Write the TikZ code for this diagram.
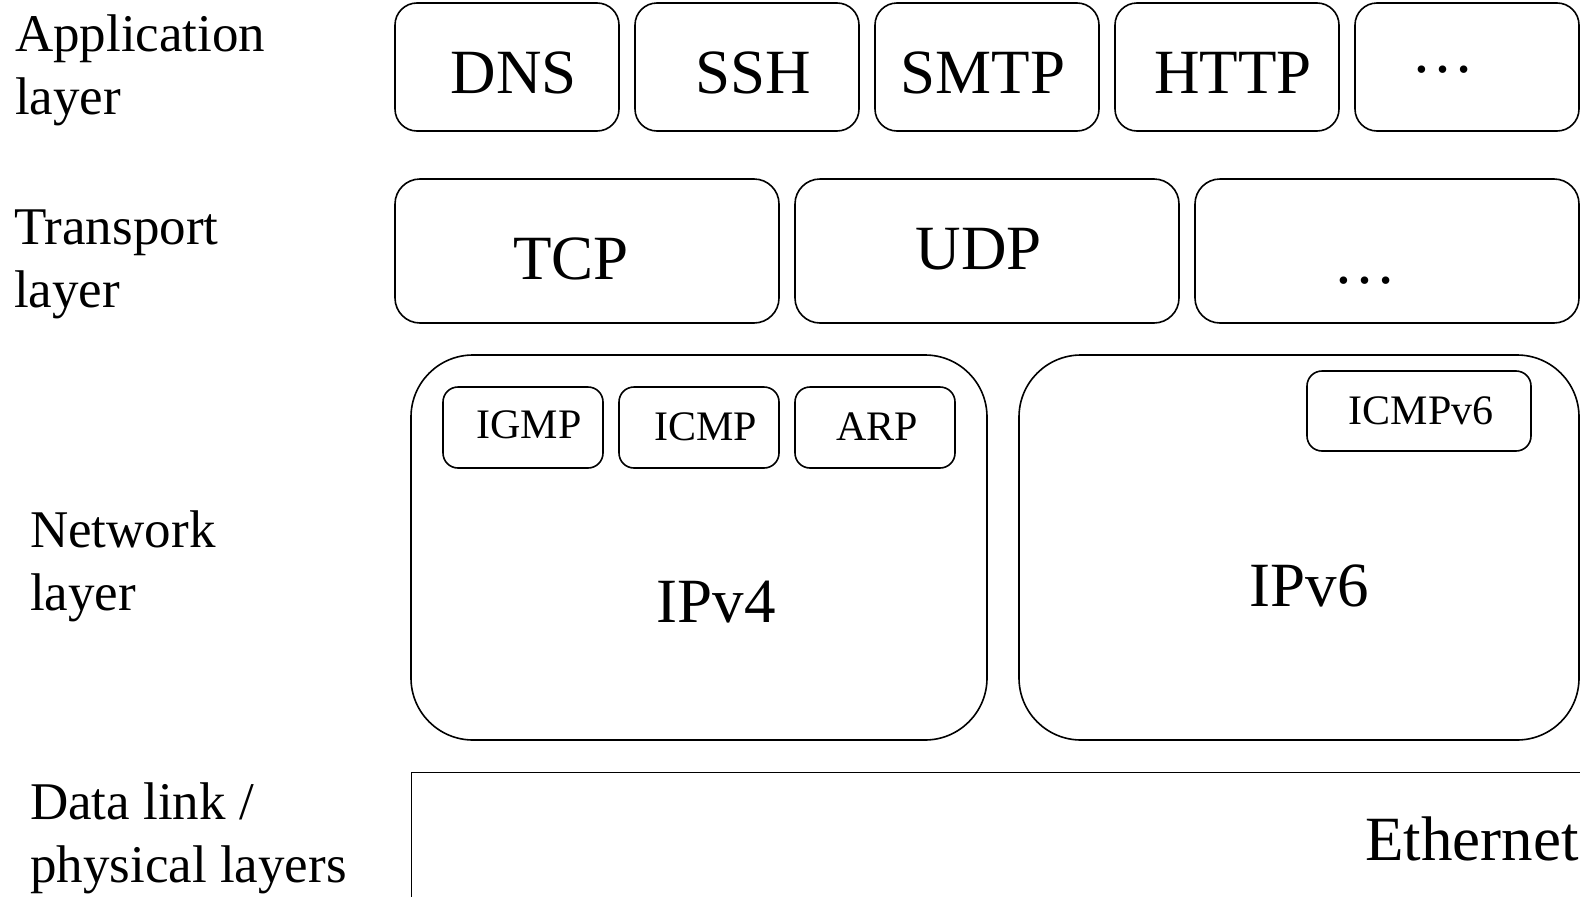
\documentclass[tikz,border=0pt]{standalone}
\usepackage{fontspec}
\setmainfont{Liberation Serif}
\begin{document}
\begin{tikzpicture}[x=1pt,y=-1pt,
  box/.style={draw, line width=1.6pt, inner sep=0pt, rectangle},
  big/.style={font=\fontsize{63}{72}\selectfont, inner sep=0pt, anchor=base},
  small/.style={font=\fontsize{42}{48}\selectfont, inner sep=0pt, anchor=base},
  lbl/.style={font=\fontsize{53}{62.5}\selectfont, inner sep=0pt, align=left, anchor=base west}]
\useasboundingbox (0,0) rectangle (1580,897);
\clip (0,0) rectangle (1580,897);
% Application layer
\foreach \n/\c in {dns/507, ssh/747, smtp/987, http/1227, appmore/1467}
  \node[box, rounded corners=22pt, minimum width=224pt, minimum height=128pt] (\n) at (\c,67) {};
\node[big] (tdns) at (514,93) {DNS};
\node[big] (tssh) at (753,93) {SSH};
\node[big] (tsmtp) at (983,93) {SMTP};
\node[big] (thttp) at (1233,93) {HTTP};
\node[big] (tappmore) at (1443,72) {…};
% Transport layer
\foreach \n/\c in {tcp/587, udp/987, trmore/1387}
  \node[box, rounded corners=25pt, minimum width=384pt, minimum height=144pt] (\n) at (\c,251) {};
\node[big] (ttcp) at (571,279) {TCP};
\node[big] (tudp) at (979,269) {UDP};
\node[big] (ttrmore) at (1365,283) {…};
% Network layer
\node[box, rounded corners=62pt, minimum width=576pt, minimum height=385pt] (ipv4) at (699,547.5) {};
\node[box, rounded corners=62pt, minimum width=560pt, minimum height=385pt] (ipv6) at (1299,547.5) {};
\foreach \n/\c in {igmp/523, icmp/699, arp/875}
  \node[box, rounded corners=15pt, minimum width=160pt, minimum height=81pt] (\n) at (\c,427.5) {};
\node[box, rounded corners=15pt, minimum width=224pt, minimum height=80pt] (icmpv6) at (1419,411) {};
\node[small] (tigmp) at (529,438) {IGMP};
\node[small] (ticmp) at (706,440) {ICMP};
\node[small] (tarp) at (877,440) {ARP};
\node[small] (ticmpv6) at (1421,424) {ICMPv6};
\node[big] (tipv4) at (716,622) {IPv4};
\node[big] (tipv6) at (1309,606) {IPv6};
% Data link
\node[box, line width=1.4pt, minimum width=1200pt, minimum height=200pt, anchor=north west] (eth) at (411,772) {};
\node[big, anchor=base west] (teth) at (1365,860) {Ethernet};
% Layer labels
\node[lbl] (lapp) at (15,114) {Application\\layer};
\node[lbl] (ltr) at (14,307) {Transport\\layer};
\node[lbl] (lnet) at (30,610) {Network\\layer};
\node[lbl] (ldl) at (30,882) {Data link /\\physical layers};
\end{tikzpicture}
\end{document}
